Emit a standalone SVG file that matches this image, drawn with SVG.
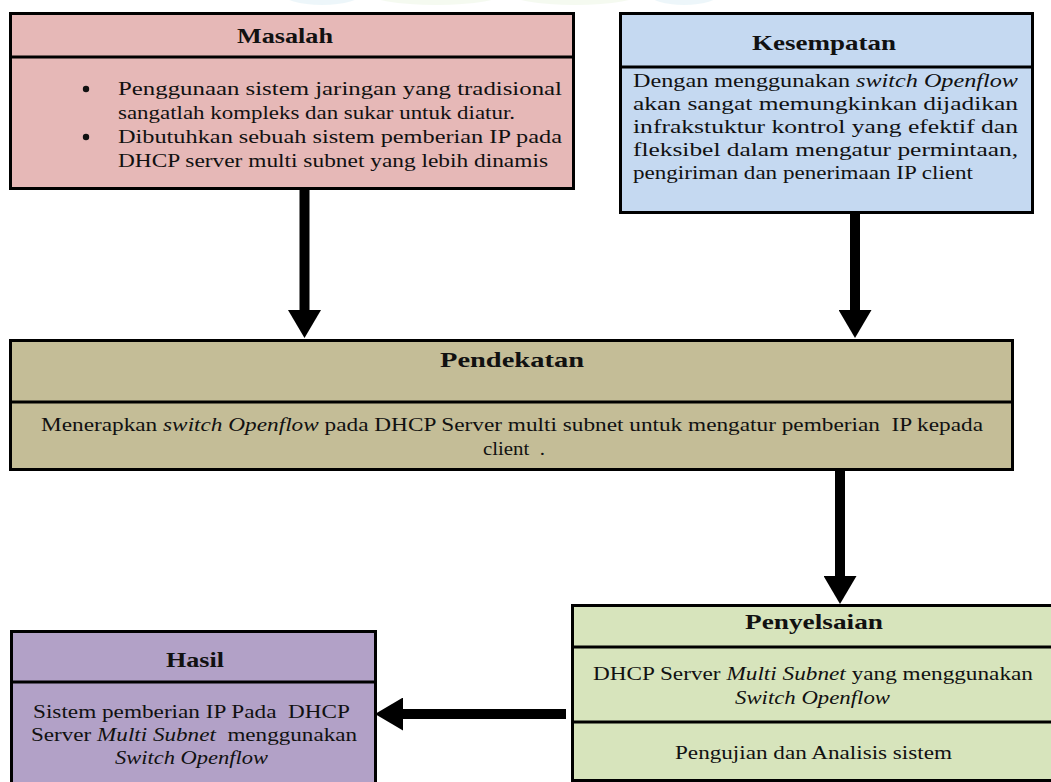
<svg xmlns="http://www.w3.org/2000/svg" width="1051" height="782" viewBox="0 0 1051 782">
<style>
.box{stroke:#000;stroke-width:3}
.div{stroke:#000;stroke-width:3}
.t{font-family:"Liberation Serif","Times New Roman",serif;font-size:22px;font-weight:bold;fill:#111}
.b{font-family:"Liberation Serif","Times New Roman",serif;font-size:19px;fill:#111;white-space:pre}
.i{font-style:italic}
.conn{stroke:#000;stroke-width:10;fill:none}
.bullet{fill:#111}
</style>
<defs>
<marker id="head" markerUnits="userSpaceOnUse" viewBox="0 0 28 33" markerWidth="28" markerHeight="33" refX="0" refY="16.5" orient="auto">
<path d="M0,0 L28,16.5 L0,33 Z" fill="#000"/>
</marker>
</defs>
<rect width="1051" height="782" fill="#fff"/>
<g id="watermark" opacity="0.18">
<ellipse cx="322" cy="-7" rx="40" ry="12" fill="#9fd3e6"/>
<ellipse cx="436" cy="-7" rx="68" ry="12" fill="#c9e6b0"/>
<ellipse cx="575" cy="-7" rx="66" ry="12" fill="#c9e6b0"/>
<ellipse cx="684" cy="-7" rx="36" ry="12" fill="#9fd3e6"/>
</g>
<g id="connectors">
<line class="conn" x1="304.5" y1="190" x2="304.5" y2="310" marker-end="url(#head)"/>
<line class="conn" x1="855" y1="214" x2="855" y2="310" marker-end="url(#head)"/>
<line class="conn" x1="840" y1="471" x2="840" y2="576" marker-end="url(#head)"/>
<line class="conn" x1="566" y1="714" x2="403" y2="714" marker-end="url(#head)"/>
</g>
<g id="masalah">
<rect class="box" x="10.5" y="13.5" width="563" height="175" fill="#e6b8b7"/>
<line class="div" x1="10.5" y1="57" x2="573.5" y2="57"/>
<text class="t" x="237" y="43" textLength="96" lengthAdjust="spacingAndGlyphs">Masalah</text>
<circle class="bullet" cx="86" cy="89" r="3.2"/>
<circle class="bullet" cx="86" cy="137" r="3.2"/>
<text class="b" x="118" y="95" textLength="444" lengthAdjust="spacingAndGlyphs">Penggunaan sistem jaringan yang tradisional</text>
<text class="b" x="118" y="119" textLength="397" lengthAdjust="spacingAndGlyphs">sangatlah kompleks dan sukar untuk diatur.</text>
<text class="b" x="118" y="143" textLength="444" lengthAdjust="spacingAndGlyphs">Dibutuhkan sebuah sistem pemberian IP pada</text>
<text class="b" x="118" y="167" textLength="430" lengthAdjust="spacingAndGlyphs">DHCP server multi subnet yang lebih dinamis</text>
</g>
<g id="kesempatan">
<rect class="box" x="620.5" y="13.5" width="412" height="199" fill="#c5d9f1"/>
<line class="div" x1="620.5" y1="67" x2="1032.5" y2="67"/>
<text class="t" x="752" y="50" textLength="144" lengthAdjust="spacingAndGlyphs">Kesempatan</text>
<text class="b" x="633" y="87" textLength="385" lengthAdjust="spacingAndGlyphs">Dengan menggunakan <tspan class="i">switch Openflow</tspan></text>
<text class="b" x="633" y="110" textLength="385" lengthAdjust="spacingAndGlyphs">akan sangat memungkinkan dijadikan</text>
<text class="b" x="633" y="133" textLength="385" lengthAdjust="spacingAndGlyphs">infrakstuktur kontrol yang efektif dan</text>
<text class="b" x="633" y="156" textLength="385" lengthAdjust="spacingAndGlyphs">fleksibel dalam mengatur permintaan,</text>
<text class="b" x="633" y="179" textLength="340" lengthAdjust="spacingAndGlyphs">pengiriman dan penerimaan IP client</text>
</g>
<g id="pendekatan">
<rect class="box" x="10.5" y="340.5" width="1002" height="129" fill="#c4bd97"/>
<line class="div" x1="10.5" y1="402" x2="1012.5" y2="402"/>
<text class="t" x="440" y="367" textLength="144" lengthAdjust="spacingAndGlyphs">Pendekatan</text>
<text class="b" x="41" y="431" textLength="942" lengthAdjust="spacingAndGlyphs">Menerapkan <tspan class="i">switch Openflow</tspan> pada DHCP Server multi subnet untuk mengatur pemberian  IP kepada</text>
<text class="b" x="483" y="455" textLength="62" lengthAdjust="spacingAndGlyphs">client  .</text>
</g>
<g id="penyelsaian">
<rect class="box" x="572.5" y="605.5" width="490" height="175" fill="#d7e4bc"/>
<line class="div" x1="572.5" y1="647" x2="1062" y2="647"/>
<line class="div" x1="572.5" y1="722" x2="1062" y2="722"/>
<text class="t" x="745" y="629" textLength="138" lengthAdjust="spacingAndGlyphs">Penyelsaian</text>
<text class="b" x="593" y="680" textLength="440" lengthAdjust="spacingAndGlyphs">DHCP Server <tspan class="i">Multi Subnet</tspan> yang menggunakan</text>
<text class="b i" x="735" y="704" textLength="155" lengthAdjust="spacingAndGlyphs">Switch Openflow</text>
<text class="b" x="675" y="759" textLength="277" lengthAdjust="spacingAndGlyphs">Pengujian dan Analisis sistem</text>
</g>
<g id="hasil">
<rect class="box" x="11.5" y="631.5" width="364" height="170" fill="#b2a1c7"/>
<line class="div" x1="11.5" y1="682" x2="375.5" y2="682"/>
<text class="t" x="166" y="667" textLength="58" lengthAdjust="spacingAndGlyphs">Hasil</text>
<text class="b" x="33" y="718" textLength="317" lengthAdjust="spacingAndGlyphs">Sistem pemberian IP Pada  DHCP</text>
<text class="b" x="31" y="741" textLength="326" lengthAdjust="spacingAndGlyphs">Server <tspan class="i">Multi Subnet</tspan>  menggunakan</text>
<text class="b i" x="115" y="764" textLength="153" lengthAdjust="spacingAndGlyphs">Switch Openflow</text>
</g>
</svg>
